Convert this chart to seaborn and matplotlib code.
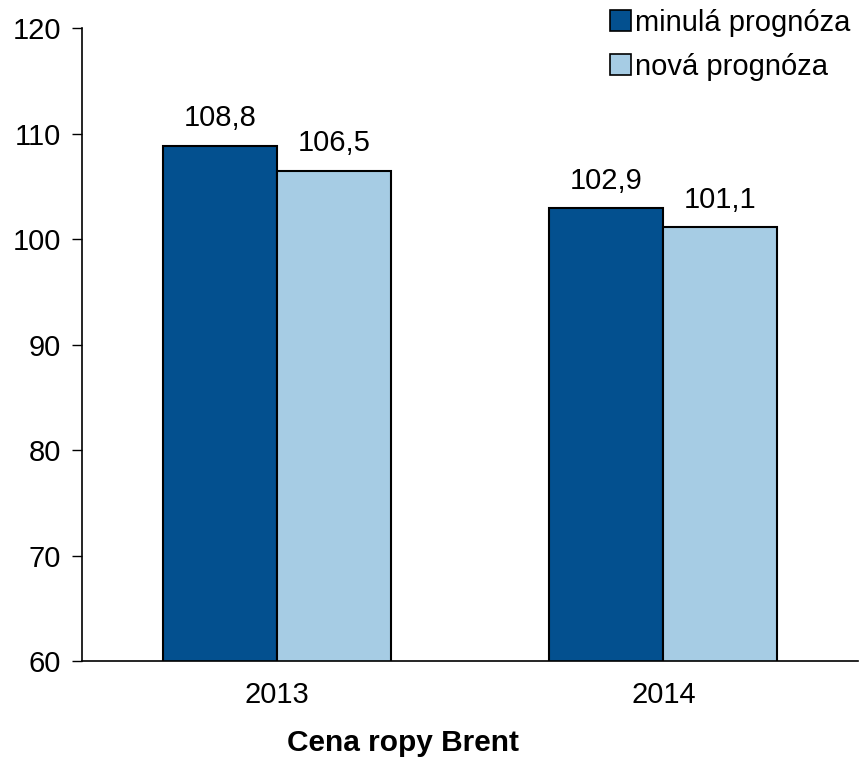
import matplotlib
matplotlib.use("Agg")
import matplotlib.pyplot as plt
import seaborn as sns
import pandas as pd
from matplotlib.patches import Patch

years = ["2013", "2014"]
series = ["minulá prognóza", "nová prognóza"]
minula = [108.8, 102.9]
nova = [106.5, 101.1]
yticks = [60, 70, 80, 90, 100, 110, 120]
xlabel = "Cena ropy Brent"

colors = ["#03508F", "#A6CCE4"]

df = pd.DataFrame({
    "rok": years * 2,
    "prognoza": [series[0]] * len(years) + [series[1]] * len(years),
    "cena": minula + nova,
})

sns.set_style("white")
plt.rcParams["font.family"] = ["Liberation Sans", "DejaVu Sans"]
plt.rcParams["text.color"] = "black"
plt.rcParams["xtick.color"] = "black"
plt.rcParams["ytick.color"] = "black"
plt.rcParams["axes.labelcolor"] = "black"

fig = plt.figure(figsize=(8.59, 7.59), dpi=100)
ax = fig.add_axes([0.0955, 0.129, 0.9035, 0.834])

sns.barplot(data=df, x="rok", y="cena", hue="prognoza", order=years,
            hue_order=series, palette=colors, width=0.59, edgecolor="black",
            linewidth=1.5, saturation=1, ax=ax, legend=False)

for cont in ax.containers:
    ax.bar_label(cont, labels=[f"{v:.1f}".replace(".", ",") for v in cont.datavalues],
                 padding=10, fontsize=21, color="black")

ax.set_ylim(60, 120)
ax.set_xlim(-0.504, 1.504)
ax.set_yticks(yticks)
ax.tick_params(axis="y", which="major", length=7, width=1, direction="out",
               labelsize=21, pad=8, left=True, color="black")
ax.tick_params(axis="x", length=0, labelsize=21, pad=14)
for s in ["top", "right"]:
    ax.spines[s].set_visible(False)
for s in ["left", "bottom"]:
    ax.spines[s].set_color("black")
    ax.spines[s].set_linewidth(1.2)

ax.set_ylabel("")
ax.set_xlabel(xlabel, fontsize=21.5, fontweight="bold")
ax.xaxis.set_label_coords(0.414, -0.107)

handles = [Patch(facecolor=c, edgecolor="black", linewidth=1.2) for c in colors]
fig.legend(handles, series, loc="upper right", bbox_to_anchor=(1.0, 1.0),
           frameon=False, fontsize=21, handlelength=0.7, handleheight=0.7,
           handletextpad=0.15, labelspacing=0.55, borderpad=0.2,
           borderaxespad=0.1)

fig.savefig("out.png", dpi=100)
